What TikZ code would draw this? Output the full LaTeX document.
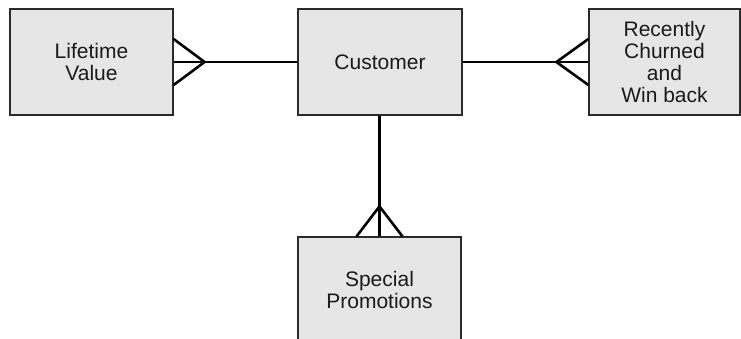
\documentclass[tikz,border=0pt]{standalone}
\usepackage{fontspec}
\setmainfont{Liberation Sans}
\definecolor{boxfill}{HTML}{E6E6E6}
\definecolor{boxline}{HTML}{2A2A2A}
\definecolor{txt}{HTML}{1A1A1A}
\begin{document}
\begin{tikzpicture}[x=1pt,y=-1pt,
  entity/.style={draw=boxline, fill=boxfill, line width=1.2pt, rectangle,
    minimum height=106pt, inner sep=0pt, align=center, text=txt,
    font=\fontsize{21pt}{22pt}\selectfont},
  rel/.style={line width=2.6pt, black}]
\useasboundingbox (0,0) rectangle (741,338);
\clip (0,0) rectangle (741,338);
\node[entity, minimum width=163pt] (lv) at (91.5,62) {Lifetime\\Value};
\node[entity, minimum width=164pt] (cu) at (380,62) {Customer};
\node[entity, minimum width=151pt] (rc) at (664.5,62) {Recently\\Churned\\and\\Win back};
\node[entity, minimum width=163pt] (sp) at (379.5,290) {Special\\Promotions};
% Customer -- Lifetime Value
\coordinate (lva) at ([xshift=31pt]lv.east);
\draw[rel] (cu.west) -- (lv.east);
\draw[rel] ([yshift=-23pt]lv.east) -- (lva) -- ([yshift=23pt]lv.east);
% Customer -- Recently Churned
\coordinate (rca) at ([xshift=-32pt]rc.west);
\draw[rel] (cu.east) -- (rc.west);
\draw[rel] ([yshift=-23pt]rc.west) -- (rca) -- ([yshift=23pt]rc.west);
% Customer -- Special Promotions
\coordinate (spa) at ([yshift=30pt]sp.north);
\draw[rel] (sp.north |- cu.south) -- (sp.north);
\draw[rel] ([xshift=-23pt]sp.north) -- (spa) -- ([xshift=23pt]sp.north);
\end{tikzpicture}
\end{document}
